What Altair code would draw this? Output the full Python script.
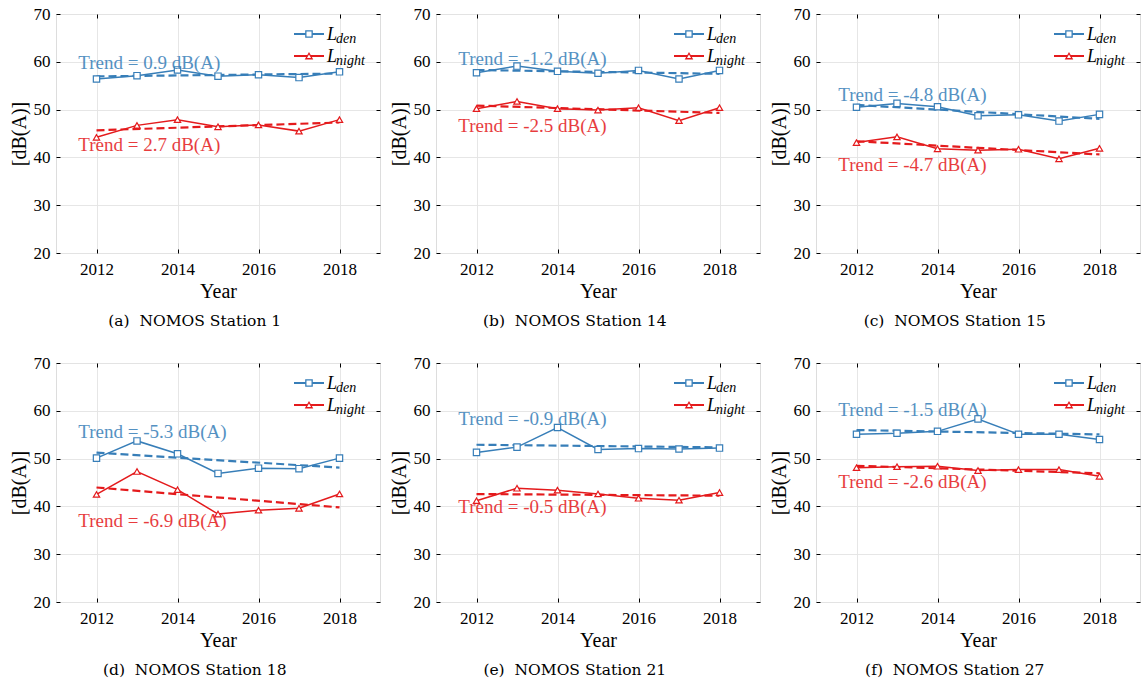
import altair as alt
import pandas as pd

# ---- data -------------------------------------------------------------
years = [2012, 2013, 2014, 2015, 2016, 2017, 2018]
x_ticks = [2012, 2014, 2016, 2018]
y_ticks = [20, 30, 40, 50, 60, 70]

NBSP = "\u00a0"
captions = [
    f"(a){NBSP}{NBSP}NOMOS Station 1",
    f"(b){NBSP}{NBSP}NOMOS Station 14",
    f"(c){NBSP}{NBSP}NOMOS Station 15",
    f"(d){NBSP}{NBSP}NOMOS Station 18",
    f"(e){NBSP}{NBSP}NOMOS Station 21",
    f"(f){NBSP}{NBSP}NOMOS Station 27",
]

# L_den per station, 2012-2018
lden_s1 = [56.4, 57.1, 58.3, 57.0, 57.3, 56.7, 57.9]
lden_s14 = [57.7, 59.1, 58.0, 57.6, 58.2, 56.4, 58.2]
lden_s15 = [50.5, 51.3, 50.6, 48.7, 48.9, 47.6, 49.0]
lden_s18 = [50.1, 53.7, 51.0, 46.9, 48.0, 47.9, 50.1]
lden_s21 = [51.3, 52.4, 56.5, 51.9, 52.1, 52.0, 52.2]
lden_s27 = [55.1, 55.3, 55.7, 58.3, 55.1, 55.1, 54.0]

# L_night per station, 2012-2018
lnight_s1 = [44.2, 46.7, 47.9, 46.4, 46.8, 45.5, 47.9]
lnight_s14 = [50.2, 51.7, 50.2, 49.9, 50.4, 47.7, 50.4]
lnight_s15 = [43.1, 44.3, 41.8, 41.5, 41.7, 39.7, 41.9]
lnight_s18 = [42.5, 47.3, 43.5, 38.4, 39.2, 39.6, 42.6]
lnight_s21 = [41.2, 43.8, 43.4, 42.6, 41.7, 41.3, 42.9]
lnight_s27 = [48.1, 48.3, 48.4, 47.5, 47.7, 47.7, 46.3]

lden_series = [lden_s1, lden_s14, lden_s15, lden_s18, lden_s21, lden_s27]
lnight_series = [lnight_s1, lnight_s14, lnight_s15, lnight_s18, lnight_s21, lnight_s27]

# stated trends, dB(A)
trend_den = [0.9, -1.2, -4.8, -5.3, -0.9, -1.5]
trend_night = [2.7, -2.5, -4.7, -6.9, -0.5, -2.6]

# where the trend annotations sit (data units)
label_x = 2011.55
label_y_den = [59.8, 60.6, 53.1, 55.6, 58.2, 60.1]
label_y_night = [42.5, 46.5, 38.5, 37.0, 39.8, 45.1]

# ---- style ------------------------------------------------------------
BLUE = "#377eb8"
RED = "#e41a1c"
SERIF = "Liberation Serif"
CAPTION_FONT = "DejaVu Serif"
W, H = 324, 239
SERIES = ["Lden", "Lnight"]

color = alt.Color("series:N", scale=alt.Scale(domain=SERIES, range=[BLUE, RED]), legend=None)
shape = alt.Shape("series:N", scale=alt.Scale(domain=SERIES, range=["square", "triangle-up"]), legend=None)
x_scale = alt.Scale(domain=[2011, 2019], nice=False, zero=False)
y_scale = alt.Scale(domain=[20, 70], nice=False, zero=False)

axis_common = dict(
    offset=-4, tickSize=4, tickColor="black", tickWidth=1, domain=False,
    labelFont=SERIF, labelFontSize=17, labelColor="black",
    titleFont=SERIF, titleColor="black", titleFontWeight="normal",
)

x_main = alt.X("year:Q", scale=x_scale, axis=alt.Axis(
    values=x_ticks, format="d", title="Year", orient="bottom", grid=True,
    gridColor="#e3e3e3", gridWidth=0.9, labelPadding=8, titleFontSize=20,
    titlePadding=4, **axis_common))
y_main = alt.Y("value:Q", scale=y_scale, axis=alt.Axis(
    values=y_ticks, title="[dB(A)]", orient="left", grid=True,
    gridColor="#e3e3e3", gridWidth=0.9, labelPadding=6, titleFontSize=20,
    titlePadding=4, **axis_common))
x_top = alt.X("year:Q", scale=x_scale, axis=alt.Axis(
    values=x_ticks, orient="top", labels=False, title=None, grid=False, **axis_common))
y_right = alt.Y("value:Q", scale=y_scale, axis=alt.Axis(
    values=y_ticks, orient="right", labels=False, title=None, grid=False, **axis_common))
x_plain = alt.X("year:Q", scale=x_scale, axis=None)
y_plain = alt.Y("value:Q", scale=y_scale, axis=None)


def one_row():
    return pd.DataFrame({"k": [0]})


def legend_layers():
    layers = []
    for row_y, col, sym, sub in [(20, BLUE, "square", "den"),
                                 (42, RED, "triangle-up", "night")]:
        src = alt.Chart(one_row())
        layers.append(src.mark_rule(color=col, strokeWidth=2).encode(
            x=alt.value(238), x2=alt.value(268), y=alt.value(row_y)))
        layers.append(src.mark_point(shape=sym, color=col, filled=False, fill="white",
                                     fillOpacity=1, size=40, strokeWidth=1.3).encode(
            x=alt.value(253), y=alt.value(row_y)))
        layers.append(src.mark_text(text="L", font=SERIF, fontStyle="italic", fontSize=18,
                                    align="left", baseline="middle", color="black").encode(
            x=alt.value(271), y=alt.value(row_y + 1)))
        layers.append(src.mark_text(text=sub, font=SERIF, fontStyle="italic", fontSize=14,
                                    align="left", baseline="middle", color="black").encode(
            x=alt.value(280), y=alt.value(row_y + 5)))
    return layers


def panel(i):
    df = pd.DataFrame({
        "year": years * 2,
        "value": lden_series[i] + lnight_series[i],
        "series": ["Lden"] * len(years) + ["Lnight"] * len(years),
    })
    labels = pd.DataFrame({
        "year": [label_x, label_x],
        "value": [label_y_den[i], label_y_night[i]],
        "series": SERIES,
        "text": [f"Trend = {trend_den[i]:.1f} dB(A)", f"Trend = {trend_night[i]:.1f} dB(A)"],
    })
    base = alt.Chart(df)

    frame_axes = base.mark_line(opacity=0).encode(x=x_main, y=y_main)
    side_axes = base.mark_line(opacity=0).encode(x=x_top, y=y_right)
    trend = base.transform_regression("year", "value", groupby=["series"]).mark_line(
        strokeDash=[8, 4], strokeWidth=2.2).encode(x=x_plain, y=y_plain, color=color)
    lines = base.mark_line(strokeWidth=1.5).encode(x=x_plain, y=y_plain, color=color)
    points = base.mark_point(filled=False, fill="white", fillOpacity=1, size=40,
                             strokeWidth=1.2).encode(x=x_plain, y=y_plain, color=color, shape=shape)
    text = alt.Chart(labels).mark_text(align="left", baseline="middle", font=SERIF,
                                       fontSize=19, opacity=0.85).encode(
        x=x_plain, y=y_plain, text="text:N", color=color)

    return alt.layer(frame_axes, side_axes, trend, lines, points, text, *legend_layers()).resolve_axis(
        x="independent", y="independent"
    ).properties(
        width=W, height=H,
        title=alt.TitleParams(captions[i], orient="bottom", font=CAPTION_FONT, fontSize=15.5,
                              fontWeight="normal", color="black", anchor="middle",
                              frame="bounds", offset=13),
    )


chart = alt.concat(*[panel(i) for i in range(6)], columns=3,
                   spacing={"row": 110, "column": 56}, bounds="flush").properties(
    padding={"left": 8, "top": 4, "right": 2, "bottom": 2}
).configure_view(stroke="black", strokeWidth=1.3).configure(background="white")

chart.save("out.html", embed_options={"renderer": "svg", "actions": False})
